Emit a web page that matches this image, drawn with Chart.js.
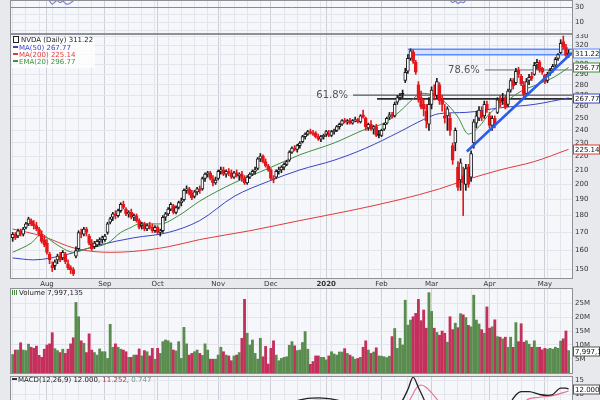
<!DOCTYPE html>
<html><head><meta charset="utf-8"><title>NVDA Daily</title>
<script src="https://cdn.jsdelivr.net/npm/chart.js@4.4.1/dist/chart.umd.min.js"></script>
<style>
html,body{margin:0;padding:0;}
body{width:600px;height:400px;overflow:hidden;background:#e8e9ed;position:relative;font-family:"DejaVu Sans",Verdana,sans-serif;}
canvas{position:absolute;left:0;}
.leg{position:absolute;font-size:7px;line-height:7.3px;white-space:nowrap;color:#222;}
.leg .sw{display:inline-block;width:5px;height:2px;vertical-align:middle;margin-right:1px;position:relative;top:-1px;}
.leg .ic{display:inline-block;width:4px;height:5px;border:1px solid #222;margin-right:2px;vertical-align:middle;position:relative;top:-1px;}
.leg .vi{display:inline-block;width:5px;height:5px;margin-right:2px;vertical-align:middle;position:relative;top:-1px;background:linear-gradient(90deg,#4f8a45 0 30%,transparent 30% 45%,#4f8a45 45% 70%,transparent 70% 80%,#4f8a45 80%);}
</style></head><body>
<canvas id="cRsi" width="600" height="34" style="top:0"></canvas>
<canvas id="cMain" width="600" height="255" style="top:34px"></canvas>
<canvas id="cVol" width="600" height="86" style="top:288px"></canvas>
<canvas id="cMacd" width="600" height="60" style="top:376px"></canvas>
<div class="leg" id="legMain" style="left:12px;top:37px;background:rgba(255,255,255,0.75);padding:0 2px 1px 1px;"></div>
<div class="leg" id="legVol" style="left:12px;top:290px;"></div>
<div class="leg" id="legMacd" style="left:12px;top:377px;"></div>
<script>
// ---------- data ----------
const monthIdx = [13,35,55,78,98,119,140,159,181,202];
const monthLabels = ['Aug','Sep','Oct','Nov','Dec','2020','Feb','Mar','Apr','May'];
const weekIdx = [0,5,10,15,20,25,30,35,39,44,49,54,59,64,69,74,79,84,89,94,98,103,108,113,117,121,126,131,135,140,145,150,154,159,164,169,174,179,184,188,193,198,203,208];
const priceTicks = [150,160,170,180,190,200,210,220,230,240,250,260,270,280,290,300,310,320,330];
const volTicks = [5,10,15,20,25];
const macdTicks = [0,5,10,15];
const rsiTicks = [0,10,20,30];

const opens = [
167,169,168,171,169,173,175,177,175,174,
172,169,166,164,158,152,152,155,157,156,
158,153,151,150,157,161,170,169,172,168,
164,162,163,165,166,166,170,176,179,181,
180,183,187,184,181,182,179,180,177,174,
175,172,174,173,171,173,170,171,179,181,
184,186,182,185,188,190,196,197,194,192,
195,197,197,204,207,208,204,201,204,209,
210,207,209,208,205,208,206,207,204,201,
205,207,209,211,218,220,216,213,210,204,
205,209,210,212,214,217,223,226,225,228,
231,235,237,239,238,238,235,233,235,237,
237,236,239,240,243,245,248,247,248,246,
248,249,247,253,250,242,245,241,243,237,
236,241,246,251,253,252,264,268,272,284,
293,306,313,302,280,268,262,256,245,262,
272,270,280,266,252,252,250,228,230,212,
203,206,200,212,205,230,246,250,256,252,
262,252,244,250,255,266,266,268,262,275,
284,282,294,288,280,272,284,288,290,300,
302,296,289,284,291,295,299,306,312,324,
318,310];
const highs = [
170,170,172,172,173,176,179,178,177,176,
173,171,168,166,159,154,155,158,159,160,
159,155,152,151,162,171,172,173,173,169,
166,165,166,167,168,169,176,179,182,183,
184,188,189,185,183,184,181,181,178,176,
176,175,176,175,174,174,172,180,182,185,
188,187,186,189,191,197,199,198,196,196,
198,199,205,208,209,209,206,205,210,212,
212,210,211,210,209,210,208,209,206,206,
208,210,212,219,222,221,218,214,211,206,
210,212,213,215,217,224,227,228,229,231,
236,238,240,241,240,239,237,236,237,240,
240,240,241,244,246,249,250,249,250,249,
251,250,253,257,251,246,248,244,245,240,
241,246,251,255,255,264,270,272,275,296,
310,316,315,304,283,274,266,262,268,278,
280,286,282,270,262,260,254,230,242,216,
218,212,214,214,224,249,256,260,260,265,
265,255,252,252,268,270,272,270,276,286,
286,296,297,290,283,286,290,292,302,305,
304,297,290,292,296,300,307,311,326,330,
321,315];
const lows = [
165,166,167,168,168,172,174,174,172,171,
168,164,162,158,153,149,150,153,154,155,
153,150,148,147,156,160,167,168,168,163,
160,161,162,163,164,165,169,175,177,178,
179,182,184,180,179,178,177,176,172,172,
171,171,172,170,170,169,168,170,177,180,
183,181,181,184,186,189,194,193,190,191,
193,194,196,202,205,203,199,200,203,207,
206,205,206,204,204,205,203,202,200,200,
204,206,207,210,216,215,212,209,203,201,
204,207,208,210,213,216,222,224,223,226,
230,233,236,237,236,234,232,231,233,235,
235,235,237,239,241,244,246,245,245,245,
247,246,246,250,240,240,240,237,235,234,
235,240,245,249,250,251,262,266,268,282,
291,304,301,290,264,258,252,242,240,258,
266,268,262,256,246,240,236,214,224,196,
196,180,196,198,202,226,242,248,248,250,
255,242,240,242,254,260,262,258,260,273,
276,280,287,279,268,270,280,284,289,295,
292,290,281,282,289,292,297,304,311,316,
308,307];
const closes = [
169,167,171,169,172,175,178,175,174,172,
169,165,163,159,155,151,154,157,155,159,
154,151,150,148,160,170,169,172,170,164,
161,164,165,166,167,168,175,178,181,180,
183,187,185,181,182,179,180,177,173,175,
172,174,173,171,173,170,171,179,181,184,
187,182,185,188,189,196,197,194,191,195,
197,196,204,207,208,204,201,203,209,210,
207,209,208,205,208,206,207,204,201,205,
207,209,210,218,220,216,213,210,204,203,
209,210,212,214,216,223,226,225,228,230,
235,237,239,238,237,235,233,235,236,239,
236,239,240,243,245,248,247,248,246,248,
249,247,252,251,243,245,241,243,236,236,
240,245,250,253,252,262,268,270,271,292,
306,314,303,292,267,260,258,248,262,275,
270,283,265,262,250,258,240,217,240,198,
215,201,211,200,222,247,252,257,251,262,
258,244,250,245,266,263,265,260,274,284,
279,293,290,281,271,283,287,286,299,302,
294,292,283,290,294,298,305,310,322,318,
309,311.22];
// volume in millions
const volumes = [
6.6,8.2,8.2,10.8,8.2,8.0,10.3,9.2,8.8,9.6,
6.3,5.6,8.5,10.0,10.4,14.4,8.7,8.0,7.3,8.5,
7.0,8.5,10.4,12.6,25.2,20.1,11.5,10.6,7.3,14.0,
8.2,7.3,6.4,8.6,7.6,7.6,5.2,17.4,9.2,10.4,
9.2,8.5,8.2,7.6,5.6,5.6,6.4,6.4,8.6,6.1,
8.0,7.6,6.1,8.8,4.9,8.8,7.0,11.2,11.8,11.5,
10.8,8.2,7.9,11.2,5.2,16.3,10.4,6.4,7.0,7.6,
8.2,7.0,6.3,10.4,8.2,4.9,4.9,4.9,6.4,9.2,
7.6,6.4,6.1,4.4,6.1,6.4,7.3,12.4,26.3,14.2,
10.0,11.8,7.0,4.9,12.4,5.8,9.5,3.2,8.8,11.5,
6.4,4.4,5.2,5.6,5.8,9.9,11.2,9.7,8.0,8.2,
10.9,14.8,8.5,3.1,4.1,6.1,6.1,5.6,5.6,4.7,
6.1,7.6,6.8,6.4,7.5,7.5,8.7,7.0,6.4,5.8,
4.9,5.2,5.6,9.2,11.5,8.2,7.0,7.5,9.0,6.1,
6.0,5.8,5.5,6.0,13.0,15.9,8.8,12.4,10.0,26.0,
17.1,18.9,20.1,21.3,26.3,18.7,22.5,16.0,28.7,22.0,
16.0,14.5,13.5,15.0,14.2,11.0,20.1,15.5,17.8,16.2,
21.2,20.8,19.8,17.0,16.5,27.8,18.9,17.5,15.5,14.2,
23.6,16.0,16.5,19.0,13.0,12.8,12.2,12.8,9.2,12.8,
9.2,18.0,11.2,17.6,11.0,11.5,10.3,9.2,11.5,9.2,
9.2,8.3,8.8,8.5,8.8,8.5,9.2,8.8,11.4,12.2,
15.0,7.997135];

const ema20Idx = [0,7,11,14,18,23,28,36,41,45,48,56,63,71,84,97,109,122,134,141,147,152,155,160,165,169,173,177,181,187,193,199,206,211];
const ema20Val = [159,164,169,166,162,159,161,164,170,173,175,175,180,189,201,211,221,230,241,246,256,267,272,270,262,251,237,243,254,264,274,280,288,296.77];
const ma50Idx = [0,8,21,33,46,59,71,84,97,109,122,134,147,156,162,172,185,198,211];
const ma50Val = [156,155,158,163,167,170,177,192,202,210,217,226,239,249,254,255,259,262,267.77];
const ma200Idx = [0,11,24,37,46,59,71,90,109,128,147,162,172,185,198,211];
const ma200Val = [172,168,161,159,159.5,162,166,171,177,183,190,197,203,210,216,225.14];

const rsiIdx = [0,6,10,12,13,14,15,16,17,18,19,20,21,22,23,24,26,35,60,90,120,150,155,160,163,165,166,167,168,169,170,171,172,173,175,190,211];
const rsiVal = [55,60,50,44,41,38,34,37,39,36,38,35,34,36,39,48,56,52,60,62,66,74,55,50,44,41,39,36,38,35,37,36,39,42,52,62,66];

const macdIdx = [100,108,112,116,120,126,132,138,142,146,148,150,152,154,156,158,162,170,180,186,189,191,193,196,200,203,205,208,210,211];
const macdVal = [6.5,7.8,8.6,8.8,8.5,7.5,6.5,5.0,4.5,6.0,8.0,11.8,16.2,12.5,8.5,4.0,-2,-14,-11,0,7.0,9.8,11.0,11.0,10.0,9.7,10.0,12.3,12.3,12.0];
const signalIdx = [100,110,116,122,130,140,146,149,151,153,155,157,160,163,170,180,190,195,200,205,211];
const signalVal = [5.5,7.2,8.0,7.8,7.0,5.5,5.0,6.5,8.5,12.0,13.4,12.5,9.5,6.0,-5,-9,2,8.0,9.0,9.6,11.25];

// annotations drawn on the price panel
const fibLevels = [294.3, 270.3];
const fibNames = ['78.6%','61.8%'];
const fibFrom = [179.2, 129.2];
const supportLevel = 266.9, supportFrom = 138.3;
const boxFrom = 150, boxLow = 309.8, boxHigh = 315.6;
const trendX = [172.4, 212.3];
const trendY = [223.5, 312];

// ---------- helpers ----------
const X_MIN = -0.65, X_MAX = 212.3;
const N = closes.length;
const gridIdx = Array.from(new Set(weekIdx.concat(monthIdx))).sort((a,b)=>a-b);
const FONT = '"DejaVu Sans", Verdana, sans-serif';
const C_EMA = '#3f8f3f', C_MA50 = '#3a44c4', C_MA200 = '#e23b3b';
const pts = (idx, vals) => idx.map((x,k)=>({x, y: vals[k]}));
const isUp = i => i === 0 ? closes[0] >= opens[0] : closes[i] >= closes[i-1];

function xAxis(showLabels){
  return {
    type:'linear', min:X_MIN, max:X_MAX, offset:false, position:'bottom',
    afterBuildTicks: s => { s.ticks = gridIdx.map(v=>({value:v})); },
    afterFit: s => { s.height = showLabels ? 10 : 0; s.paddingLeft = 0; s.paddingRight = 0; },
    grid:{ offset:false, drawTicks:false, lineWidth:1,
      color: c => (c.tick && monthIdx.includes(c.tick.value)) ? '#cdd0d8' : '#e2e5eb' },
    border:{display:false},
    ticks:{ display:showLabels, autoSkip:false, maxRotation:0, padding:1, color:'#333',
      font: c => ({family:FONT, size:7, weight:(c.tick && c.tick.label==='2020') ? 'bold' : 'normal'}),
      callback: v => { const k = monthIdx.indexOf(v); return k >= 0 ? monthLabels[k] : ''; } }
  };
}
function yAxis(extra, tickVals, labelFn, gridColor){
  return Object.assign({
    position:'right',
    afterFit: s => { s.width = 28; s.paddingTop = 0; s.paddingBottom = 0; },
    afterBuildTicks: s => { s.ticks = tickVals.map(v=>({value:v})); },
    grid:{ drawTicks:false, color: gridColor || '#e2e5eb' },
    border:{display:false},
    ticks:{ autoSkip:false, padding:3, color:'#333', font:{family:FONT, size:7}, callback: labelFn }
  }, extra);
}
function makeDeco(cfg){
  return {
    id:'deco',
    beforeDraw(chart){
      const a = chart.chartArea, c = chart.ctx;
      c.save(); c.fillStyle = '#f6f7fa'; c.fillRect(a.left, a.top, a.right-a.left, a.bottom-a.top); c.restore();
    },
    afterDatasetsDraw(chart){
      if (!cfg.texts) return;
      const c = chart.ctx, xs = chart.scales.x, ys = chart.scales.y;
      c.save(); c.font = '10px ' + FONT; c.fillStyle = '#555'; c.textAlign = 'right'; c.textBaseline = 'middle';
      cfg.texts.forEach(t => c.fillText(t.text, xs.getPixelForValue(t.x) - 5, ys.getPixelForValue(t.y) + 0.5));
      c.restore();
    },
    afterDraw(chart){
      const a = chart.chartArea, c = chart.ctx, ys = chart.scales.y;
      c.save();
      c.strokeStyle = '#8f9095'; c.lineWidth = 1;
      c.strokeRect(Math.round(a.left)-0.5, Math.round(a.top)+0.5, Math.round(a.right-a.left)+1, Math.round(a.bottom-a.top)-1);
      (cfg.boxes||[]).forEach(b => {
        const y = Math.round(ys.getPixelForValue(b.v)) + 0.5;
        const x0 = Math.round(a.right) + 1.5, w = 600 - x0 - 0.5;
        c.fillStyle = '#ffffff'; c.fillRect(x0, y-4.5, w, 9);
        c.strokeStyle = b.color; c.strokeRect(x0, y-4.5, w, 9);
        c.fillStyle = '#111'; c.font = '7px ' + FONT; c.textAlign = 'left'; c.textBaseline = 'middle';
        c.fillText(b.text, x0 + 1.5, y + 0.5);
      });
      c.restore();
    }
  };
}
function baseOptions(xs, ys){
  return { responsive:false, animation:false, events:[],
    layout:{ autoPadding:false, padding:{left:11, right:0, top:0, bottom:0} },
    plugins:{ legend:{display:false}, tooltip:{enabled:false} },
    scales:{ x:xs, y:ys } };
}
const lineDs = (data, color, width, order, extra) => Object.assign({
  type:'line', data, borderColor:color, borderWidth:width, pointRadius:0, fill:false,
  cubicInterpolationMode:'monotone', order }, extra||{});

// ---------- top indicator panel ----------
new Chart(document.getElementById('cRsi'), {
  type:'line',
  data:{ datasets:[ lineDs(pts(rsiIdx, rsiVal), '#7f7fd8', 1.2, 0) ] },
  options: baseOptions(xAxis(false),
    yAxis({type:'linear', min:-5, max:39.5}, rsiTicks, v => (v===30 || v===10) ? String(v) : '',
      c => (c.tick && c.tick.value === 30) ? '#8a8a8a' : '#e2e5eb')),
  plugins:[ makeDeco({}) ]
});

// ---------- main price panel ----------
const candleColor = i => isUp(i) ? '#1c1c1c' : '#e3171c';
const mainDatasets = [
  lineDs(pts(trendX, trendY), '#2a5de8', 2.6, -1, {cubicInterpolationMode:'default', tension:0}),
  { type:'bar', grouped:false, order:0, barThickness:3, borderWidth:1, borderSkipped:false,
    data: closes.map((c,i)=>({x:i, y:[Math.min(opens[i],c), Math.max(opens[i],c)]})),
    borderColor: ctx => candleColor(ctx.dataIndex),
    backgroundColor: ctx => closes[ctx.dataIndex] > opens[ctx.dataIndex] ? '#ffffff' : candleColor(ctx.dataIndex) },
  { type:'bar', grouped:false, order:1, barThickness:1, borderWidth:0,
    data: closes.map((c,i)=>({x:i, y:[lows[i], highs[i]]})),
    backgroundColor: ctx => candleColor(ctx.dataIndex) },
  lineDs(pts(ema20Idx, ema20Val), C_EMA, 1, 2),
  lineDs(pts(ma50Idx, ma50Val), C_MA50, 1, 2),
  lineDs(pts(ma200Idx, ma200Val), C_MA200, 1, 2),
  lineDs([{x:fibFrom[0], y:fibLevels[0]}, {x:X_MAX, y:fibLevels[0]}], '#6a6a6a', 1, 3),
  lineDs([{x:fibFrom[1], y:fibLevels[1]}, {x:X_MAX, y:fibLevels[1]}], '#555555', 1.2, 3),
  lineDs([{x:supportFrom, y:supportLevel}, {x:X_MAX, y:supportLevel}], '#2a2a2a', 1.6, 3),
  lineDs([{x:boxFrom, y:boxLow}, {x:X_MAX, y:boxLow}], '#5a8cff', 1.5, 4),
  lineDs([{x:boxFrom, y:boxHigh}, {x:X_MAX, y:boxHigh}], '#5a8cff', 1.5, 4,
    {fill:'-1', backgroundColor:'rgba(190,212,255,0.55)'})
];
new Chart(document.getElementById('cMain'), {
  type:'bar',
  data:{ datasets: mainDatasets },
  options: baseOptions(xAxis(true),
    yAxis({type:'logarithmic', min:145.3, max:332.3}, priceTicks, v => String(v))),
  plugins:[ makeDeco({
    texts: fibNames.map((t,k)=>({text:t, x:fibFrom[k], y:fibLevels[k]})),
    boxes: [
      {v:closes[N-1], text:closes[N-1].toFixed(2), color:'#5a8cff'},
      {v:ema20Val[ema20Val.length-1], text:ema20Val[ema20Val.length-1].toFixed(2), color:C_EMA},
      {v:ma50Val[ma50Val.length-1], text:ma50Val[ma50Val.length-1].toFixed(2), color:C_MA50},
      {v:ma200Val[ma200Val.length-1], text:ma200Val[ma200Val.length-1].toFixed(2), color:C_MA200}
    ]}) ]
});

// ---------- volume panel ----------
const lastVol = Math.round(volumes[N-1]*1e6).toLocaleString('en-US');
new Chart(document.getElementById('cVol'), {
  type:'bar',
  data:{ datasets:[{ type:'bar', barThickness:2.2, borderWidth:0,
    data: volumes.map((v,i)=>({x:i, y:v})),
    backgroundColor: ctx => isUp(ctx.dataIndex) ? '#5a8c4f' : '#c4305c' }] },
  options: baseOptions(xAxis(false),
    yAxis({type:'linear', min:-0.36, max:30.36}, volTicks, v => v + 'M')),
  plugins:[ makeDeco({ boxes:[{v:volumes[N-1], text:lastVol, color:'#555'}] }) ]
});

// ---------- MACD panel ----------
new Chart(document.getElementById('cMacd'), {
  type:'line',
  data:{ datasets:[
    lineDs(pts(macdIdx, macdVal), '#222222', 1.3, 0),
    lineDs(pts(signalIdx, signalVal), '#e4728c', 1.1, 1)
  ]},
  options: baseOptions(xAxis(false),
    yAxis({type:'linear', min:-4.8, max:16.6}, macdTicks, v => String(v))),
  plugins:[ makeDeco({ boxes:[{v:macdVal[macdVal.length-1], text:macdVal[macdVal.length-1].toFixed(3), color:'#555'}] }) ]
});

// ---------- legends (real text) ----------
document.getElementById('legMain').innerHTML =
  '<div><span class="ic"></span>NVDA (Daily) ' + closes[N-1].toFixed(2) + '</div>' +
  '<div style="color:'+C_MA50+'"><span class="sw" style="background:'+C_MA50+'"></span>MA(50) ' + ma50Val[ma50Val.length-1].toFixed(2) + '</div>' +
  '<div style="color:'+C_MA200+'"><span class="sw" style="background:'+C_MA200+'"></span>MA(200) ' + ma200Val[ma200Val.length-1].toFixed(2) + '</div>' +
  '<div style="color:'+C_EMA+'"><span class="sw" style="background:'+C_EMA+'"></span>EMA(20) ' + ema20Val[ema20Val.length-1].toFixed(2) + '</div>';
document.getElementById('legVol').innerHTML = '<span class="vi"></span>Volume ' + lastVol;
document.getElementById('legMacd').innerHTML =
  '<span class="sw" style="background:#333"></span>MACD(12,26,9) 12.000, <span style="color:#c0304f">11.252,</span> <span style="color:#6a9a8a">0.747</span>';
</script>
</body></html>
